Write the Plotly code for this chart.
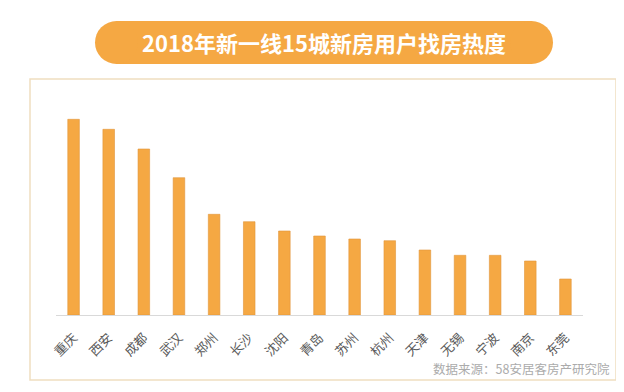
import plotly.graph_objects as go

cities = ["重庆", "西安", "成都", "武汉", "郑州", "长沙", "沈阳", "青岛",
          "苏州", "杭州", "天津", "无锡", "宁波", "南京", "东莞"]
heat = [195.7, 185.7, 166.0, 137.3, 100.7, 93.3, 84.0, 79.0,
        76.0, 74.3, 65.0, 59.7, 59.7, 54.0, 36.0]

title_text = "2018年新一线15城新房用户找房热度"
source_text = "数据来源：58安居客房产研究院"

# page has an 8px body margin; work in page coordinates and offset
OFF = 8
W, H = 624 - OFF, 392 - OFF
L, R, T, B = 56 - OFF, 41, 100 - OFF, 77
PW, PH = W - L - R, H - T - B

def px(x):
    return (x - OFF - L) / PW

def py(y):
    return (H - B - (y - OFF)) / PH

FONT = "Noto Sans CJK SC"
ORANGE = "#F5A843"

fig = go.Figure(go.Bar(
    x=cities, y=heat,
    marker=dict(color=ORANGE, line=dict(color="#E0953A", width=0.6)),
    width=0.33,
))

shapes = []
# outer frame
shapes.append(dict(type="rect", xref="paper", yref="paper",
                   x0=px(30), x1=px(616), y0=py(380), y1=py(79),
                   line=dict(color="#F0DEC0", width=1.5), fillcolor="rgba(0,0,0,0)", layer="below"))
# title pill
r = 21.5
x0p, x1p, y0p, y1p = 95, 553, 21, 64
shapes.append(dict(type="rect", xref="paper", yref="paper",
                   x0=px(x0p + r), x1=px(x1p - r), y0=py(y1p), y1=py(y0p),
                   line=dict(width=0), fillcolor=ORANGE))
for cx0 in (x0p, x1p - 2 * r):
    shapes.append(dict(type="circle", xref="paper", yref="paper",
                       x0=px(cx0), x1=px(cx0 + 2 * r), y0=py(y1p), y1=py(y0p),
                       line=dict(width=0), fillcolor=ORANGE))

annotations = [
    dict(text="<b>" + title_text + "</b>", xref="paper", yref="paper",
         x=px(324), y=py(42.5), xanchor="center", yanchor="middle", showarrow=False,
         font=dict(family=FONT, size=22, color="white")),
    dict(text=source_text, xref="paper", yref="paper",
         x=px(612), y=py(368), xanchor="right", yanchor="middle", showarrow=False,
         font=dict(family=FONT, size=12.5, color="#ABABAB")),
]

fig.update_layout(
    width=W, height=H,
    margin=dict(l=L, r=R, t=T, b=B, autoexpand=False),
    paper_bgcolor="white", plot_bgcolor="white",
    showlegend=False,
    shapes=shapes, annotations=annotations,
    font=dict(family=FONT),
    xaxis=dict(showline=True, linecolor="#D9D9D9", linewidth=1, tickangle=-45,
               tickfont=dict(family=FONT, size=13, color="#595959"),
               ticklabelstandoff=9,
               ticks="", showgrid=False, automargin=False),
    yaxis=dict(visible=False, range=[0, PH], showgrid=False, zeroline=False,
               automargin=False),
)

fig.write_html("out.html")
